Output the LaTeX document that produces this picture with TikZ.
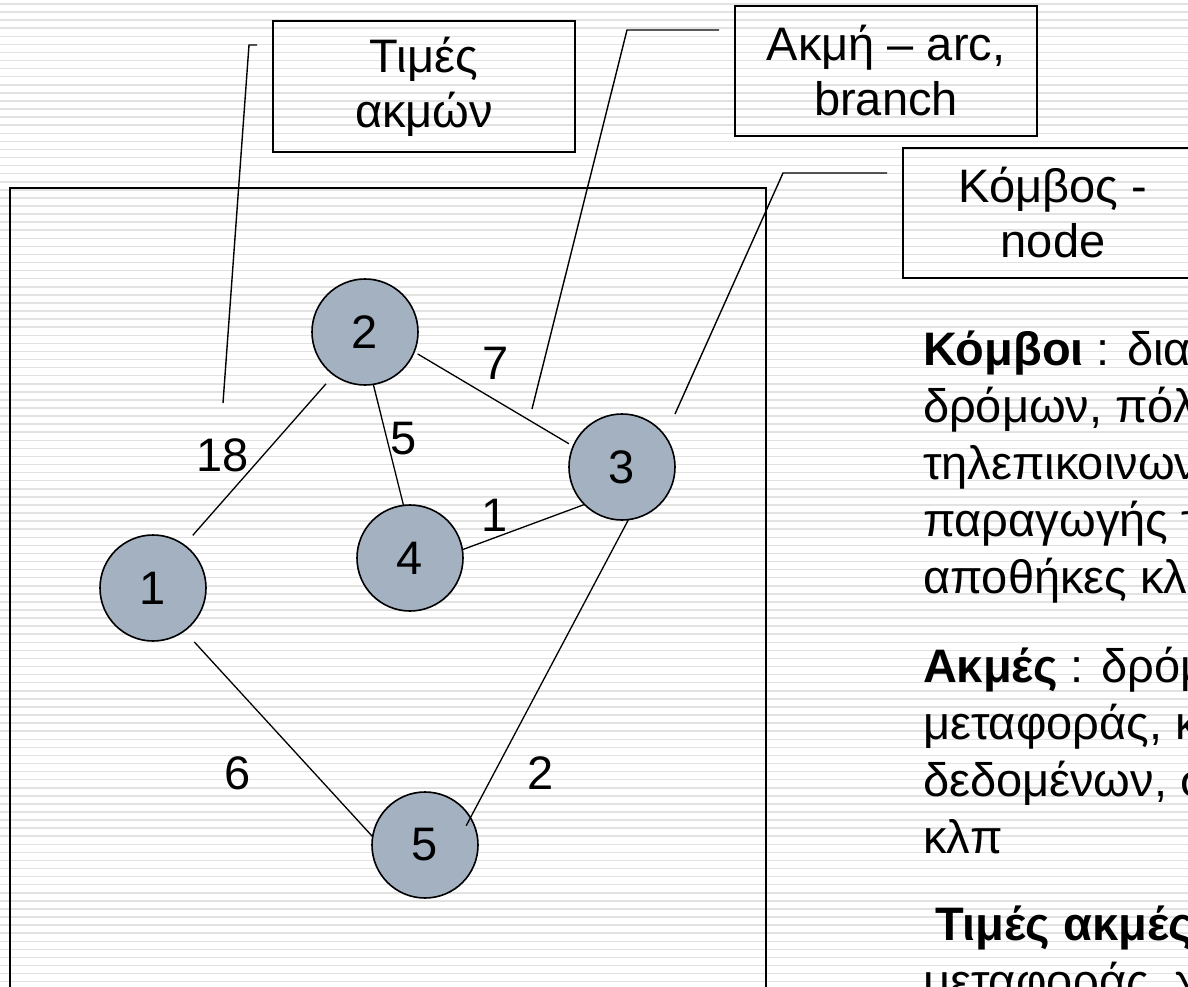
\documentclass[tikz,border=0pt]{standalone}
\usepackage{fontspec}
\setmainfont{Liberation Sans}
\usetikzlibrary{calc}
\definecolor{vertexfill}{RGB}{163,177,193}
\definecolor{stripecol}{RGB}{226,226,226}
\begin{document}
\begin{tikzpicture}[x=1pt,y=-1pt,
  every node/.style={font=\fontsize{47}{55}\selectfont, inner sep=0pt, outer sep=0pt},
  stripe/.style={draw=stripecol, line width=1.5pt},
  labelbox/.style={draw=black, line width=1.6pt, align=center},
  vertex/.style={circle, draw=black, line width=1.6pt, fill=vertexfill, minimum size=106pt},
  edge/.style={draw=black, line width=1.3pt},
  callout/.style={draw=black, line width=1.4pt},
  frame/.style={draw=black, line width=2pt},
  weight/.style={anchor=center},
  textline/.style={anchor=base west}
]
\useasboundingbox (0,0) rectangle (1188,987);
\clip (0,0) rectangle (1188,987);

% striped slide background
\fill[white] (0,0) rectangle (1188,987);
\foreach \k in {0,...,122}
  \draw[stripe] (0,{4+8.08*\k}) -- (1188,{4+8.08*\k});

% frame around the graph
\draw[frame] (10,1000) -- (10,188) -- (766,188) -- (766,1000);

% label boxes
\node[labelbox, minimum width=302pt, minimum height=131pt] (tbox) at (424,86.5) {Τιμές\\ακμών};
\node[labelbox, minimum width=302pt, minimum height=130pt] (abox) at (886,71) {Ακμή – arc,\\branch};
\node[labelbox, minimum width=300pt, minimum height=130pt] (kbox) at (1053,213) {Κόμβος -\\node};

% vertices
\node[vertex] (c1) at (153,588) {1};
\node[vertex] (c2) at (365,332) {2};
\node[vertex] (c3) at (622,467) {3};
\node[vertex] (c4) at (410,558) {4};
\node[vertex] (c5) at (425,845) {5};

% edges
\draw[edge, shorten <=13pt, shorten >=12pt] (c1.54) -- (c2.234);
\draw[edge, shorten <=4pt, shorten >=5pt] (c2.-22) -- (c3.157);
\draw[edge] (c2.-81) -- (c4.97);
\draw[edge] (c4.9) -- (c3.225);
\draw[edge, shorten >=-9pt] (c3.-83) -- (c5.31);
\draw[edge, shorten <=15pt] (c1.-54) -- (c5.171);

% edge weights
\node[weight] (w12) at (223,455) {18};
\node[weight] (w24) at (404,439) {5};
\node[weight] (w23) at (496,363) {7};
\node[weight] (w43) at (495,515) {1};
\node[weight] (w15) at (238,773) {6};
\node[weight] (w35) at (541,773) {2};

% callout leaders
\coordinate (t1) at (257,45);
\coordinate (t2) at (249,45);
\coordinate (t3) at (223,403);
\draw[callout] (t1) -- (t2) -- (t3);
\coordinate (a1) at (719,30);
\coordinate (a2) at (627,30);
\coordinate (a3) at (532,409);
\draw[callout] (a1) -- (a2) -- (a3);
\coordinate (k1) at (887,173);
\coordinate (k2) at (783,173);
\coordinate (k3) at (675,414);
\draw[callout] (k1) -- (k2) -- (k3);

% explanatory text
\node[textline] (p1a) at (923,365) {\textbf{Κόμβοι} : δια};
\node[textline] (p1b) at (923,422) {δρόμων, πόλ};
\node[textline] (p1c) at (923,479) {τηλεπικοινων};
\node[textline] (p1d) at (923,536) {παραγωγής τ};
\node[textline] (p1e) at (923,593) {αποθήκες κλ};
\node[textline] (p2a) at (923,682) {\textbf{Ακμές} : δρόμ};
\node[textline] (p2b) at (923,739) {μεταφοράς, κ};
\node[textline] (p2c) at (923,796) {δεδομένων, σ};
\node[textline] (p2d) at (923,853) {κλπ};
\node[textline] (p3a) at (935,940) {\textbf{Τιμές ακμές}};
\node[textline] (p3b) at (923,997) {μεταφοράς, χ};
\end{tikzpicture}
\end{document}
